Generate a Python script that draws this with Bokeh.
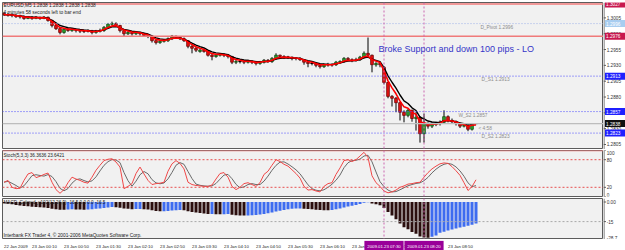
import pandas as pd
from bokeh.plotting import figure
from bokeh.models import Span, Label, Range1d
from bokeh.layouts import column, row
from bokeh.embed import file_html
from bokeh.resources import INLINE
from bokeh.core.properties import value

# ---------------- data (EURUSD M5, 22/23 Jan 2009) ----------------
open_ = [1.3012, 1.3010, 1.3010, 1.3009, 1.3007, 1.3007, 1.3004, 1.3006, 1.3004, 1.3006,
         1.3004, 1.3006, 1.3001, 1.2993, 1.2988, 1.2982, 1.2987, 1.2985, 1.2987, 1.2985,
         1.2984, 1.2984, 1.2984, 1.2982, 1.2984, 1.2985, 1.2990, 1.2995, 1.2996, 1.2993,
         1.2985, 1.2980, 1.2982, 1.2980, 1.2982, 1.2980, 1.2977, 1.2976, 1.2969, 1.2966,
         1.2968, 1.2969, 1.2972, 1.2976, 1.2974, 1.2972, 1.2969, 1.2960, 1.2957, 1.2952,
         1.2954, 1.2952, 1.2946, 1.2944, 1.2946, 1.2947, 1.2946, 1.2944, 1.2935, 1.2936,
         1.2936, 1.2935, 1.2936, 1.2935, 1.2933, 1.2935, 1.2938, 1.2936, 1.2941, 1.2946,
         1.2944, 1.2943, 1.2943, 1.2941, 1.2941, 1.2939, 1.2935, 1.2933, 1.2933, 1.2930,
         1.2928, 1.2931, 1.2931, 1.2931, 1.2935, 1.2936, 1.2941, 1.2939, 1.2938, 1.2939,
         1.2943, 1.2949, 1.2946, 1.2931, 1.2933, 1.2927, 1.2903, 1.2881, 1.2878, 1.2871,
         1.2856, 1.2851, 1.2859, 1.2846, 1.2848, 1.2822, 1.2838, 1.2834, 1.2837, 1.2838,
         1.2840, 1.2849, 1.2843, 1.2841, 1.2838, 1.2834, 1.2835, 1.2829, 1.2838]
close = [1.3010, 1.3010, 1.3009, 1.3007, 1.3007, 1.3004, 1.3006, 1.3004, 1.3006, 1.3004,
         1.3006, 1.3001, 1.2993, 1.2988, 1.2982, 1.2987, 1.2985, 1.2987, 1.2985, 1.2984,
         1.2984, 1.2984, 1.2982, 1.2984, 1.2985, 1.2990, 1.2995, 1.2996, 1.2993, 1.2985,
         1.2980, 1.2982, 1.2980, 1.2982, 1.2980, 1.2977, 1.2976, 1.2969, 1.2966, 1.2968,
         1.2969, 1.2972, 1.2976, 1.2974, 1.2972, 1.2969, 1.2960, 1.2957, 1.2954, 1.2954,
         1.2952, 1.2946, 1.2944, 1.2946, 1.2947, 1.2946, 1.2944, 1.2935, 1.2936, 1.2936,
         1.2935, 1.2936, 1.2935, 1.2933, 1.2935, 1.2938, 1.2936, 1.2941, 1.2946, 1.2944,
         1.2943, 1.2943, 1.2941, 1.2941, 1.2939, 1.2935, 1.2933, 1.2933, 1.2930, 1.2928,
         1.2931, 1.2931, 1.2931, 1.2935, 1.2936, 1.2941, 1.2939, 1.2938, 1.2939, 1.2943,
         1.2949, 1.2946, 1.2931, 1.2933, 1.2931, 1.2903, 1.2881, 1.2878, 1.2871, 1.2856,
         1.2851, 1.2859, 1.2846, 1.2848, 1.2822, 1.2838, 1.2834, 1.2837, 1.2838, 1.2840,
         1.2849, 1.2843, 1.2841, 1.2838, 1.2834, 1.2835, 1.2829, 1.2838, 1.2838]
high = [1.3014, 1.3013, 1.3012, 1.3011, 1.3010, 1.3009, 1.3008, 1.3008, 1.3008, 1.3007,
        1.3008, 1.3007, 1.3002, 1.2995, 1.2990, 1.2989, 1.2989, 1.2989, 1.2988, 1.2987,
        1.2986, 1.2987, 1.2986, 1.2986, 1.2988, 1.2992, 1.2997, 1.2999, 1.2998, 1.2994,
        1.2987, 1.2984, 1.2983, 1.2984, 1.2983, 1.2982, 1.2979, 1.2977, 1.2971, 1.2970,
        1.2971, 1.2974, 1.2978, 1.2977, 1.2976, 1.2974, 1.2970, 1.2962, 1.2959, 1.2956,
        1.2956, 1.2954, 1.2948, 1.2948, 1.2949, 1.2949, 1.2948, 1.2945, 1.2939, 1.2939,
        1.2938, 1.2939, 1.2938, 1.2937, 1.2937, 1.2940, 1.2940, 1.2943, 1.2949, 1.2947,
        1.2946, 1.2945, 1.2944, 1.2943, 1.2943, 1.2940, 1.2937, 1.2936, 1.2935, 1.2932,
        1.2933, 1.2934, 1.2933, 1.2937, 1.2938, 1.2943, 1.2943, 1.2941, 1.2942, 1.2945,
        1.2952, 1.2974, 1.2947, 1.2935, 1.2934, 1.2929, 1.2904, 1.2883, 1.2880, 1.2872,
        1.2859, 1.2861, 1.2860, 1.2856, 1.2850, 1.2854, 1.2840, 1.2840, 1.2841, 1.2843,
        1.2859, 1.2851, 1.2846, 1.2843, 1.2840, 1.2838, 1.2837, 1.2839, 1.2838]
low = [1.3008, 1.3007, 1.3006, 1.3005, 1.3004, 1.3002, 1.3003, 1.3002, 1.3003, 1.3002,
       1.3003, 1.2999, 1.2990, 1.2986, 1.2979, 1.2980, 1.2983, 1.2983, 1.2982, 1.2981,
       1.2981, 1.2982, 1.2979, 1.2980, 1.2982, 1.2983, 1.2988, 1.2993, 1.2991, 1.2982,
       1.2975, 1.2978, 1.2977, 1.2978, 1.2977, 1.2975, 1.2973, 1.2966, 1.2963, 1.2964,
       1.2966, 1.2967, 1.2970, 1.2972, 1.2970, 1.2967, 1.2957, 1.2949, 1.2951, 1.2950,
       1.2950, 1.2944, 1.2938, 1.2942, 1.2944, 1.2943, 1.2941, 1.2932, 1.2932, 1.2933,
       1.2932, 1.2933, 1.2932, 1.2930, 1.2931, 1.2933, 1.2934, 1.2934, 1.2939, 1.2941,
       1.2940, 1.2940, 1.2938, 1.2938, 1.2937, 1.2931, 1.2927, 1.2930, 1.2927, 1.2925,
       1.2926, 1.2928, 1.2928, 1.2929, 1.2933, 1.2934, 1.2937, 1.2935, 1.2936, 1.2937,
       1.2941, 1.2943, 1.2919, 1.2928, 1.2927, 1.2900, 1.2878, 1.2865, 1.2856, 1.2843,
       1.2840, 1.2848, 1.2841, 1.2827, 1.2808, 1.2808, 1.2830, 1.2831, 1.2834, 1.2835,
       1.2838, 1.2840, 1.2838, 1.2835, 1.2831, 1.2832, 1.2826, 1.2827, 1.2838]

stoch_k = [31, 35, 20, 17, 18, 35, 49, 52, 41, 44,
           48, 51, 31, 15, 7, 15, 30, 42, 38, 35,
           31, 29, 42, 57, 68, 78, 81, 82, 75, 64,
           17, 22, 28, 50, 64, 49, 35, 26, 28, 29,
           31, 55, 71, 78, 72, 60, 31, 26, 24, 23,
           22, 22, 25, 38, 50, 52, 42, 22, 15, 20,
           28, 30, 26, 22, 30, 48, 55, 68, 80, 76,
           70, 66, 58, 50, 40, 22, 14, 15, 12, 10,
           22, 28, 30, 48, 62, 78, 80, 76, 80, 88,
           96, 85, 45, 30, 22, 12, 8, 10, 14, 20,
           23, 27, 28, 30, 31, 42, 52, 60, 66, 71,
           73, 72, 65, 56, 46, 30, 13, 21.6, 36.36]

macd = [-1.0, -1.4, -1.8, -2.2, -2.6, -3.0, -3.3, -3.6, -3.9, -4.1,
        -4.3, -4.6, -5.1, -5.5, -5.9, -6.0, -5.8, -5.6, -5.7, -5.8,
        -5.9, -5.7, -5.5, -5.2, -4.9, -4.6, -4.2, -3.9, -4.0, -4.4,
        -4.9, -5.2, -5.5, -5.4, -5.3, -5.5, -5.8, -6.3, -6.8, -7.1,
        -7.0, -6.8, -6.5, -6.3, -6.2, -6.4, -7.0, -7.6, -8.1, -8.5,
        -8.8, -9.2, -9.1, -9.3, -9.4, -9.3, -9.2, -9.8, -10.1, -10.3,
        -10.4, -10.3, -10.1, -9.9, -9.6, -9.1, -8.7, -8.1, -7.3, -6.7,
        -6.1, -5.6, -5.2, -5.0, -4.9, -5.1, -5.4, -5.6, -5.9, -6.2,
        -6.3, -6.4, -6.1, -5.6, -5.0, -4.2, -3.5, -2.9, -2.3, -1.5,
        -0.6, -0.2, -1.2, -1.8, -2.5, -4.5, -7.6, -10.4, -13.2, -16.5,
        -19.3, -20.8, -22.9, -24.3, -26.4, -27.1, -27.4, -26.6, -25.6, -23.6,
        -22.7, -21.9, -21.0, -20.3, -19.6, -18.9, -18.2, -17.4, -16.5]

time_tick_idx = [0, 7, 15, 23, 31, 39, 47, 55, 63, 71, 79, 87, 95, 103, 111]
time_tick_labels = ["22 Jan 2009", "23 Jan 00:10", "23 Jan 00:50", "23 Jan 01:30",
                    "23 Jan 02:10", "23 Jan 02:50", "23 Jan 03:30", "23 Jan 04:10",
                    "23 Jan 04:50", "23 Jan 05:30", "23 Jan 06:10", "23 Jan 06:50",
                    "23 Jan 07:30", "23 Jan 08:10", "23 Jan 08:50"]
price_ticks = [1.3005, 1.2980, 1.2955, 1.2930, 1.2905, 1.2880, 1.2855, 1.2830, 1.2805]
red_levels = [1.3027, 1.2976]
level_names = ["D_Pivot", "D_S1", "W_S2", "D_S2"]
level_vals = [1.2996, 1.2913, 1.2857, 1.2823]
level_text_idx = [119.1, 119.4, 113.6, 119.4]
bid_price = 1.2838
vline_idx = [95, 105]
vline_labels = ["2009.01.23 07:30", "2009.01.23 08:20"]
stoch_levels = [80, 20]
stoch_ticks = [100, 80, 20, 0]
macd_level = -15
macd_ticks = [0, -15, -28.7]
macd_tick_labels = ["0.00", "-15", "-28.7"]

# ---------------- derived ----------------
n = len(close)
idx = list(range(n))
cs = pd.Series(close)
ma_fast = cs.ewm(span=4, adjust=False).mean().tolist()
ma_slow = cs.ewm(span=6, adjust=False).mean().tolist()
stoch_d = pd.Series(stoch_k).rolling(3, min_periods=1).mean().tolist()

BULL, BEAR = "#2e9e2e", "#e01010"
body_top = [max(o, c) for o, c in zip(open_, close)]
body_bot = [min(o, c) for o, c in zip(open_, close)]
body_fill = [BULL if c > o else BEAR for o, c in zip(open_, close)]
body_line = ["#0b4d0b" if c > o else "#6a0000" for o, c in zip(open_, close)]
doji = [i for i in idx if open_[i] == close[i]]

DARK, BLUE = "#2b0e0e", "#3e6cf0"
macd_col = [BLUE if i > 0 and macd[i] > macd[i - 1] else DARK for i in idx]

FONT = "Liberation Sans"
BG = "#f1f1f1"
AXC = "#5c5c5c"
XR = Range1d(-0.375, 149.875)
STRIP_W = 22


def panel(h, yr, top, bottom, width=625 - STRIP_W, right=0):
    p = figure(width=width, height=h, x_range=XR, y_range=yr, output_backend="svg",
               toolbar_location=None, x_axis_location=None, y_axis_location=None,
               min_border_left=2, min_border_right=right,
               min_border_top=top, min_border_bottom=bottom)
    p.grid.visible = False
    p.background_fill_color = BG
    p.border_fill_color = "white"
    p.outline_line_color = AXC
    return p


def strip(h, yr, top, bottom, ticks, labels, baselines, boxes):
    """Right-hand price scale: ticks, tick labels and coloured level boxes."""
    s = figure(width=STRIP_W, height=h, x_range=Range1d(0, STRIP_W), y_range=yr,
               output_backend="svg", toolbar_location=None,
               x_axis_location=None, y_axis_location=None,
               min_border_left=0, min_border_right=0,
               min_border_top=top, min_border_bottom=bottom)
    s.grid.visible = False
    s.background_fill_color = "white"
    s.border_fill_color = "white"
    s.outline_line_color = None
    s.add_layout(Span(location=0.5, dimension="height", line_color=AXC, line_width=1))
    s.segment(x0=[0] * len(ticks), x1=[2.5] * len(ticks), y0=ticks, y1=ticks,
              line_color=AXC, line_width=1)
    for bl in ("top", "middle", "bottom"):
        sel = [k for k, b in enumerate(baselines) if b == bl]
        if sel:
            s.text(x=[3.2] * len(sel), y=[ticks[k] for k in sel], text=[labels[k] for k in sel],
                   text_font=value(FONT), text_font_size=value("4.7px"), text_color="#333333",
                   text_align="left", text_baseline=bl)
    if boxes:
        ys = [b[0] for b in boxes]
        s.rect(x=[11.5] * len(boxes), y=ys, width=20, height=7, height_units="screen",
               fill_color=[b[2] for b in boxes], line_color=None)
        s.text(x=[2.6] * len(boxes), y=ys, text=[b[1] for b in boxes],
               text_font=value(FONT), text_font_size=value("4.7px"),
               text_color=[b[3] for b in boxes], text_align="left", text_baseline="middle")
    return s


def vlines(p):
    for v in vline_idx:
        p.add_layout(Span(location=v, dimension="height", line_color="#cc66b0",
                          line_dash="2 2", line_width=1))


# ---------------- price panel ----------------
PY = Range1d(1.27971, 1.30293)
p1 = panel(149, PY, 2, 0)
for lv in red_levels:
    p1.add_layout(Span(location=lv, dimension="width", line_color="#f07a7a", line_width=1.6))
for nm, lv in zip(level_names, level_vals):
    col = "#9fb4ea" if nm == "D_Pivot" else "#4a4aff"
    p1.add_layout(Span(location=lv, dimension="width", line_color=col, line_dash="1 2", line_width=1))
p1.add_layout(Span(location=bid_price, dimension="width", line_color="#bdbdbd", line_width=1.2))
vlines(p1)

p1.segment(x0=idx, y0=low, x1=idx, y1=high, line_color="black", line_width=1)
p1.vbar(x=idx, width=0.7, top=body_top, bottom=body_bot, fill_color=body_fill,
        line_color=body_line, line_width=0.7)
p1.segment(x0=[i - 0.35 for i in doji], y0=[close[i] for i in doji],
           x1=[i + 0.35 for i in doji], y1=[close[i] for i in doji], line_color="black", line_width=1)
p1.line(idx, ma_slow, line_color="black", line_width=1.4)
p1.line(idx, ma_fast, line_color="#ff0000", line_width=1.6)

p1.text(x=level_text_idx, y=level_vals,
        text=[f"{nm} {lv:.4f}" for nm, lv in zip(level_names, level_vals)],
        text_font=value(FONT), text_font_size=value("4.8px"), text_color="#8c8c8c",
        text_align="left", text_baseline="top", y_offset=1)
p1.text(x=[118.6], y=[bid_price], text=["< 4:58"], text_font=value(FONT),
        text_font_size=value("4.8px"), text_color="#8c8c8c", text_align="left",
        text_baseline="top", y_offset=2)

p1.add_layout(Label(x=-0.125, y=1.30285, text="EURUSD,M5  1.2838 1.2838 1.2838 1.2838",
                    text_font=FONT, text_font_size="4.8px", text_color="#1a1a1a",
                    text_baseline="top"))
p1.add_layout(Label(x=-0.125, y=1.30180, text="4 minutes 58 seconds left to bar end",
                    text_font=FONT, text_font_size="4.8px", text_color="#1a1a1a",
                    text_baseline="top"))
p1.add_layout(Label(x=93.6, y=1.29551, text="Broke Support and down 100 pips  - LO",
                    text_font=FONT, text_font_size="9px", text_color="#3535c8",
                    text_baseline="middle"))

s1 = strip(149, PY, 2, 0, price_ticks, [f"{t:.4f}" for t in price_ticks],
           ["middle"] * len(price_ticks),
           [(red_levels[0], "1.3027", "#c8174e", "white"),
            (level_vals[0], "1.2996", "#a8cdf0", "white"),
            (red_levels[1], "1.2976", "#c8174e", "white"),
            (level_vals[1], "1.2913", "#1f1fff", "white"),
            (level_vals[2], "1.2857", "#1f1fff", "white"),
            (bid_price, "1.2838", "#111111", "white"),
            (level_vals[3], "1.2823", "#1f1fff", "white")])

# ---------------- stochastic panel ----------------
SY = Range1d(0, 100)
p2 = panel(48, SY, 1, 1)
for lv in stoch_levels:
    p2.add_layout(Span(location=lv, dimension="width", line_color="#e85050",
                       line_dash="2 2", line_width=1))
p2.add_layout(Span(location=100, dimension="width", line_color="#f07a7a", line_width=1.6))
vlines(p2)
p2.line(idx, stoch_d, line_color="#6a6a6a", line_width=1)
p2.line(idx, stoch_k, line_color="#f04848", line_width=1)
p2.add_layout(Label(x=-0.125, y=95, text="Stoch(5,3,3) 36.3636 23.6421", text_font=FONT,
                    text_font_size="4.6px", text_color="#1a1a1a", text_baseline="top"))
s2 = strip(48, SY, 1, 1, stoch_ticks, [str(t) for t in stoch_ticks],
           ["top", "middle", "middle", "bottom"], [])

# ---------------- MACD panel ----------------
MY = Range1d(-28.7, 2.68)
p3 = panel(42, MY, 1, 0)
p3.add_layout(Span(location=macd_level, dimension="width", line_color="#a8a8a8",
                   line_dash="2 2", line_width=1))
vlines(p3)
p3.vbar(x=idx, width=0.75, top=[0] * n, bottom=macd, fill_color=macd_col, line_color=None)
p3.add_layout(Label(x=-0.125, y=1.9, text="MACD_Colored_v102(12,26,9) -16.5 0.0 0.0 -16.5",
                    text_font=FONT, text_font_size="4.6px", text_color="#1a1a1a",
                    text_baseline="top"))
p3.add_layout(Label(x=-0.125, y=-27.9,
                    text="Interbank FX Trader 4, \u00a9 2001-2006 MetaQuotes Software Corp.",
                    text_font=FONT, text_font_size="4.8px", text_color="#1a1a1a",
                    text_baseline="bottom"))
s3 = strip(42, MY, 1, 0, macd_ticks, macd_tick_labels, ["middle", "middle", "bottom"], [])

# ---------------- time axis strip ----------------
p4 = panel(11, Range1d(0, 1), 0, 0, width=625, right=STRIP_W)
p4.background_fill_color = "white"
p4.outline_line_color = None
p4.text(x=time_tick_idx, y=[0.5] * len(time_tick_idx), text=time_tick_labels,
        text_font=value(FONT), text_font_size=value("4.3px"), text_color="#222222",
        text_align="left", text_baseline="middle")
p4.rect(x=vline_idx, y=[0.5, 0.5], width=9.8, height=0.95, fill_color="#990099", line_color=None)
p4.text(x=vline_idx, y=[0.5, 0.5], text=vline_labels, text_font=value(FONT),
        text_font_size=value("4.3px"), text_color="white", text_align="center",
        text_baseline="middle")

layout = column(row(p1, s1, spacing=0), row(p2, s2, spacing=0), row(p3, s3, spacing=0), p4,
                spacing=0)
open("out.html", "w").write(file_html(layout, INLINE))
